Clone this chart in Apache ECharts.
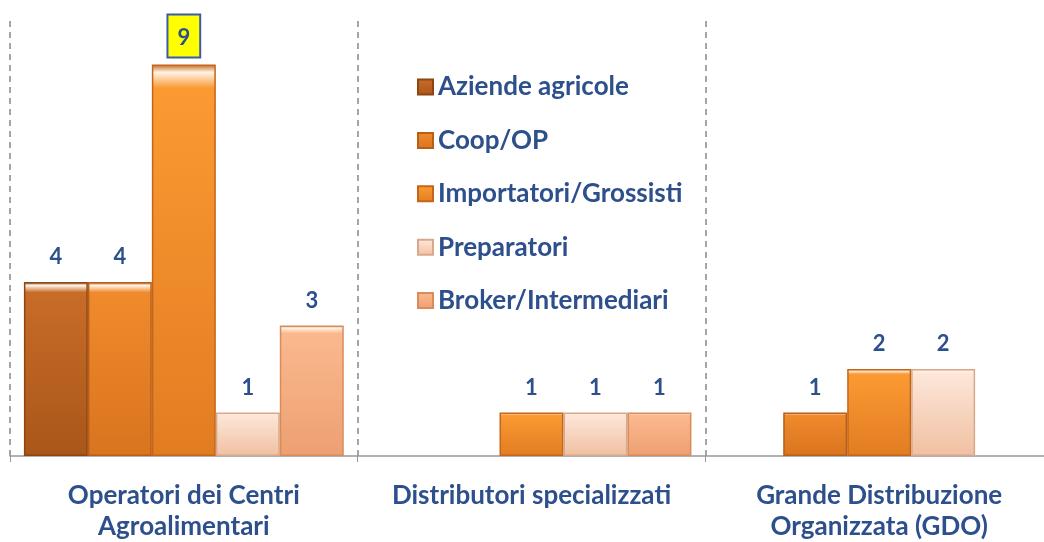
<!DOCTYPE html>
<html>
<head>
<meta charset="utf-8">
<script src="https://cdn.jsdelivr.net/npm/echarts@6/dist/echarts.min.js"></script>
<style>
  html, body { margin: 0; padding: 0; background: #fff; overflow: hidden; }
  /* il grafico originale è tagliato a destra */
  #chart { width: 1053px; height: 542px; }
</style>
</head>
<body>
<div id="chart"></div>
<script>
// categorie e valori
const categories = ['Operatori dei Centri\nAgroalimentari', 'Distributori specializzati', 'Grande Distribuzione\nOrganizzata (GDO)'];
const seriesNames = ['Aziende agricole', 'Coop/OP', 'Importatori/Grossisti', 'Preparatori', 'Broker/Intermediari'];
const aziende = [4, null, null];
const coop = [4, null, 1];
const importatori = [9, 1, 2];
const preparatori = [1, 1, 2];
const broker = [3, 1, null];
const values = [aziende, coop, importatori, preparatori, broker];

// colori: alto, basso, bordo
const colors = [
  ['#c86c28', '#a9561a', '#8f4510'],
  ['#f08a2c', '#d9741f', '#b85e16'],
  ['#fb9a32', '#e27c22', '#c4661a'],
  ['#fde6d8', '#f0c0a2', '#d9a88a'],
  ['#fbb88e', '#eda072', '#d88c5c']
];
const textBlue = '#2d4f8c';

const chart = echarts.init(document.getElementById('chart'));

const series = seriesNames.map((name, i) => ({
  name: name,
  type: 'bar',
  barGap: '0%',
  barCategoryGap: '8%',
  data: values[i].map(v => {
    if (v === 9) {
      return {
        value: v,
        label: {
          distance: 8,
          backgroundColor: '#ffff00',
          borderColor: '#3a5aa8',
          borderWidth: 2,
          padding: [11, 9, 8, 9]
        }
      };
    }
    return v;
  }),
  itemStyle: {
    color: {
      type: 'linear', x: 0, y: 0, x2: 0, y2: 1,
      colorStops: [
        { offset: 0, color: colors[i][2] },
        { offset: 0.02, color: '#fff3e6' },
        { offset: 0.06, color: colors[i][0] },
        { offset: 1, color: colors[i][1] }
      ]
    },
    borderColor: colors[i][2],
    borderWidth: 1.5
  },
  label: {
    show: true,
    position: 'top',
    distance: 14,
    color: textBlue,
    fontFamily: 'Lato',
    fontWeight: 'bold',
    fontSize: 22
  }
}));

const option = {
  animation: false,
  legend: {
    orient: 'vertical',
    left: 412,
    top: 69,
    itemWidth: 15,
    itemHeight: 15,
    itemGap: 27.4,
    icon: 'rect',
    textStyle: {
      color: textBlue,
      fontFamily: 'Lato',
      fontWeight: 'bold',
      fontSize: 26,
      lineHeight: 26
    },
    data: seriesNames
  },
  grid: {
    left: 10,
    right: 0,
    top: 21,
    bottom: 85,
    containLabel: false
  },
  xAxis: {
    type: 'category',
    data: categories,
    axisLine: { lineStyle: { color: '#999', width: 1.5 } },
    axisTick: { show: true, length: 6, interval: 0, lineStyle: { color: '#999' } },
    splitLine: { show: true, interval: 0, lineStyle: { type: [6, 5], color: '#888', width: 1.5 } },
    axisLabel: {
      interval: 0,
      margin: 24,
      color: textBlue,
      fontFamily: 'Lato',
      fontWeight: 'bold',
      fontSize: 26,
      lineHeight: 31
    }
  },
  yAxis: {
    type: 'value',
    min: 0,
    max: 10,
    show: false
  },
  series: series
};

chart.setOption(option);
</script>
</body>
</html>
